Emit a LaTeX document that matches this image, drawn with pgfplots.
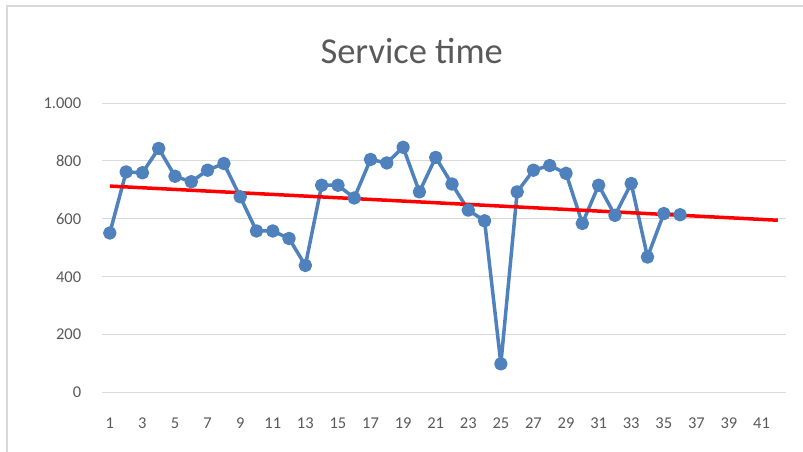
\documentclass[border=0pt]{standalone}
\usepackage{pgfplots}
\pgfplotsset{compat=1.18}
\usepackage{fontspec}
\setmainfont{Carlito}
\definecolor{ser}{RGB}{79,129,189}
\definecolor{txt}{RGB}{89,89,89}
\definecolor{grd}{RGB}{217,217,217}
\begin{document}
\begin{tikzpicture}
\useasboundingbox (-101.7pt,-58.5pt) rectangle (701.3pt,392.5pt);
\begin{scope}
\clip (-101.7pt,-58.5pt) rectangle (701.3pt,392.5pt);
\draw[grd, line width=1.6pt] (-94.7pt,-70pt) rectangle (720pt,386.5pt);
\end{scope}
\begin{axis}[
  at={(0,0)}, anchor=south west,
  scale only axis, width=684.3pt, height=289.5pt,
  xmin=0.5, xmax=42.5, ymin=0, ymax=1000,
  xtick={1,3,...,41}, ytick={0,200,...,1000},
  ymajorgrids, grid style={grd, line width=0.9pt},
  axis line style={draw=none},
  major tick length=0pt,
  tick label style={font=\fontsize{16.5}{18}\selectfont, text=txt},
  yticklabel style={xshift=-17pt},
  xticklabel style={yshift=-31pt, anchor=center},
  /pgf/number format/.cd, 1000 sep={.}, assume math mode=true,
]
\addplot[ser, line width=3.5pt, line join=round, mark=*, mark size=5pt, mark options={fill=ser, draw=ser}] coordinates {
(1,551) (2,762) (3,759) (4,843) (5,747) (6,728) (7,768) (8,791) (9,676) (10,558)
(11,558) (12,532) (13,439) (14,716) (15,716) (16,672) (17,805) (18,793) (19,847) (20,693)
(21,812) (22,720) (23,630) (24,593) (25,99) (26,693) (27,768) (28,784) (29,757) (30,584)
(31,716) (32,612) (33,722) (34,468) (35,618) (36,614)
};
\addplot[red, line width=3.5pt, no marks] coordinates {(1,713) (42,595)};
\end{axis}
\node[text=txt, font=\fontsize{36.5}{40}\selectfont] at (310pt,341pt) {Service time};
\end{tikzpicture}
\end{document}
